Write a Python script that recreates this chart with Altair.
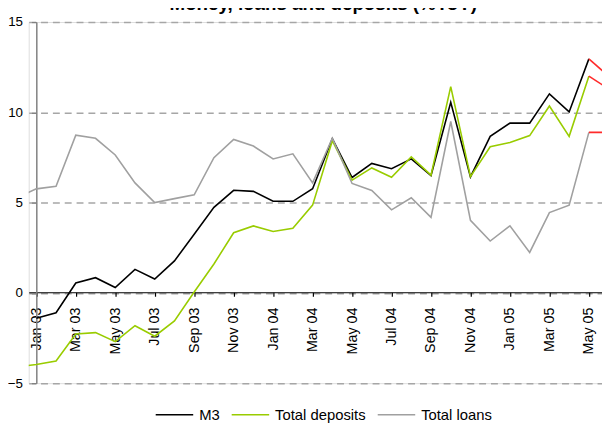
import altair as alt
import pandas as pd

# ---- data (index 0 = Jan 03, first entry = Dec 02) ----
months = ["Dec 02",
          "Jan 03", "Feb 03", "Mar 03", "Apr 03", "May 03", "Jun 03",
          "Jul 03", "Aug 03", "Sep 03", "Oct 03", "Nov 03", "Dec 03",
          "Jan 04", "Feb 04", "Mar 04", "Apr 04", "May 04", "Jun 04",
          "Jul 04", "Aug 04", "Sep 04", "Oct 04", "Nov 04", "Dec 04",
          "Jan 05", "Feb 05", "Mar 05", "Apr 05", "May 05", "Jun 05"]

m3 = [None,
      -1.4, -1.1, 0.55, 0.84, 0.3, 1.3, 0.77, 1.77, 3.25, 4.74, 5.68, 5.62,
      5.07, 5.07, 5.77, 8.54, 6.39, 7.17, 6.88, 7.42, 6.5, 10.55, 6.42, 8.67,
      9.4, 9.4, 11.02, 10.02, 12.96, 12.0]

deposits = [-4.1,
            -3.97, -3.77, -2.28, -2.2, -2.7, -1.82, -2.4, -1.55, 0.05, 1.6, 3.33, 3.71,
            3.4, 3.58, 4.86, 8.43, 6.24, 6.92, 6.4, 7.53, 6.52, 11.42, 6.44, 8.09,
            8.33, 8.71, 10.35, 8.67, 12.0, 11.3]

loans = [5.27,
         5.76, 5.91, 8.73, 8.56, 7.64, 6.09, 5.0, 5.22, 5.43, 7.49, 8.5, 8.13,
         7.42, 7.7, 6.09, 8.57, 6.06, 5.67, 4.6, 5.27, 4.18, 9.49, 4.02, 2.87,
         3.71, 2.24, 4.45, 4.86, 8.89, 8.89]

series_names = ["M3", "Total deposits", "Total loans"]
series_colors = ["#000000", "#99cc00", "#a0a0a0"]
projection_color = "#ff2b2b"
title_text = "Money, loans and deposits (%YoY)"
y_ticks = [-5, 0, 5, 10, 15]

# ---- build tables ----
last_actual = len(months) - 2          # May 05 position in the lists
rows, proj = [], []
for name, vals in zip(series_names, [m3, deposits, loans]):
    for k, v in enumerate(vals):
        if v is None:
            continue
        idx = k - 1
        if k <= last_actual:
            rows.append({"idx": idx, "value": v, "series": name})
        if k >= last_actual:
            proj.append({"idx": idx, "value": v, "series": name})
df = pd.DataFrame(rows)
dp = pd.DataFrame(proj)

label_arr = "[" + ",".join("'" + m + "'" for m in months) + "]"
label_expr = "datum.value % 2 == 0 ? " + label_arr + "[datum.value + 1] : ''"

FONT = "Liberation Sans"

x_scale = alt.Scale(domain=[-0.385, 28.665], nice=False, zero=False)
y_scale = alt.Scale(domain=[-5, 15], nice=False, zero=False)

x_axis = alt.Axis(
    values=list(range(0, 29)), labelExpr=label_expr, title=None,
    orient="bottom", offset=-92.1, labelAngle=-90, labelAlign="right",
    labelBaseline="middle", tickSize=4, tickColor="black", tickWidth=1.2,
    domainColor="black", domainWidth=1.2, labelPadding=11, labelFontSize=14.5,
    labelColor="black", labelFont=FONT, grid=False, labelOverlap=False,
    labelFlush=False, labelBound=False,
)
y_axis = alt.Axis(
    values=y_ticks, title=None, offset=-7.7, grid=True, gridDash=[7, 5],
    gridColor="#a6a6a6", gridWidth=1.5, domainColor="#808080", domainWidth=1.5,
    tickColor="#808080", tickWidth=1.2, tickSize=5, labelPadding=9,
    labelFontSize=13.5, labelColor="black", labelFont=FONT,
    labelOverlap=False, labelFlush=False, labelBound=False,
)

color_scale = alt.Scale(domain=series_names, range=series_colors)

main = alt.Chart(df).mark_line(strokeWidth=1.6, clip=True).encode(
    x=alt.X("idx:Q", scale=x_scale, axis=x_axis),
    y=alt.Y("value:Q", scale=y_scale, axis=y_axis),
    color=alt.Color(
        "series:N", scale=color_scale, sort=series_names,
        legend=alt.Legend(
            title=None, orient="none", legendX=127.7, legendY=378,
            direction="horizontal", symbolType="stroke", symbolSize=1444,
            symbolStrokeWidth=1.6, labelFontSize=15, labelFont=FONT,
            labelColor="black", labelOffset=5, columnPadding=8,
        ),
    ),
    detail="series:N",
)

projection = alt.Chart(dp).mark_line(strokeWidth=1.6, clip=True, color=projection_color).encode(
    x=alt.X("idx:Q", scale=x_scale),
    y=alt.Y("value:Q", scale=y_scale),
    detail="series:N",
)

chart = alt.layer(main, projection).properties(
    width=581, height=366,
    autosize=alt.AutoSizeParams(type="none"),
    padding={"left": 21, "top": 11.4, "right": 0, "bottom": 40.6},
    title=alt.TitleParams(
        text=title_text, fontSize=19, fontWeight="bold", anchor="middle",
        baseline="alphabetic", offset=-14, dx=8, color="black", font=FONT,
    ),
).configure_view(stroke=None).configure(font=FONT)

chart.save("out.html", embed_options={"renderer": "svg", "actions": False})
